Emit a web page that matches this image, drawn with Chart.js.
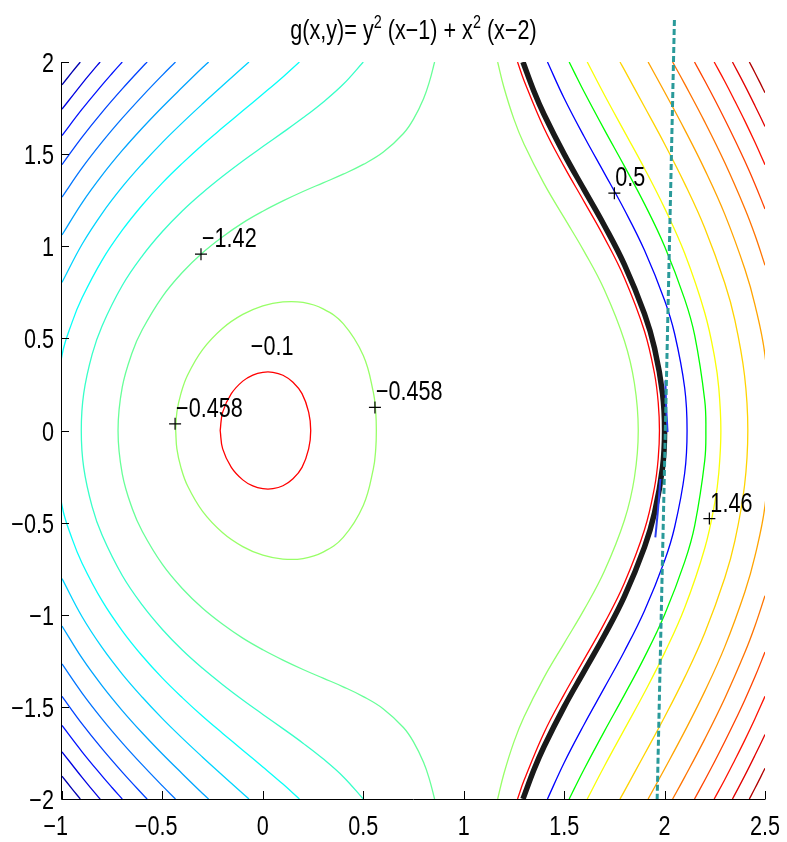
<!DOCTYPE html>
<html>
<head>
<meta charset="utf-8">
<script src="https://cdn.jsdelivr.net/npm/chart.js@4"></script>
<style>
  html, body { margin: 0; padding: 0; background: #fff; }
</style>
</head>
<body>
<canvas id="chart" width="787" height="842"></canvas>
<script>
// Tick values and labels
const xTicks = [-1, -0.5, 0, 0.5, 1, 1.5, 2, 2.5];
const xTickLabels = ['−1', '−0.5', '0', '0.5', '1', '1.5', '2', '2.5'];
const yTicks = [-2, -1.5, -1, -0.5, 0, 0.5, 1, 1.5, 2];
const yTickLabels = ['−2', '−1.5', '−1', '−0.5', '0', '0.5', '1', '1.5', '2'];

// Contour levels of the coloured set (the -0.458 level has two pieces)
const jetLevels = [-10.04, -9.08, -8.13, -7.17, -6.21, -5.25, -4.29, -3.33, -2.38, -1.42,
                   -0.458, -0.458, 1.46, 2.42, 3.38, 4.33, 5.29, 6.25, 7.21, 8.17];
const jetColors = ['#0000b0', '#0000e1', '#0012ff', '#0043ff', '#0073ff', '#00a4ff', '#00d4ff', '#06fff9',
                   '#37ffc8', '#67ff98', '#98ff67', '#98ff67', '#f9ff06', '#ffd400', '#ffa400', '#ff7300',
                   '#ff4300', '#ff1200', '#e10000', '#b00000'];

// Upper half (y >= 0) of each contour.
// The plot is symmetric about y = 0: a piece that ends on y = 0 is joined to its mirror,
// a piece that ends on an edge gets a separate mirrored piece.
const jetHalves = [
  [[-1, 1.876], [-0.95, 1.945], [-0.909, 2]],
  [[-1, 1.744], [-0.9, 1.883], [-0.85, 1.949], [-0.81, 2]],
  [[-1, 1.601], [-0.9, 1.744], [-0.8, 1.876], [-0.75, 1.939], [-0.7, 2]],
  [[-1, 1.443], [-0.9, 1.592], [-0.8, 1.728], [-0.7, 1.854], [-0.6, 1.973], [-0.576, 2]],
  [[-1, 1.267], [-0.9, 1.425], [-0.8, 1.566], [-0.7, 1.695], [-0.6, 1.815], [-0.5, 1.929], [-0.435, 2]],
  [[-1, 1.061], [-0.9, 1.236], [-0.8, 1.386], [-0.7, 1.520], [-0.6, 1.642], [-0.5, 1.756], [-0.4, 1.864],
   [-0.3, 1.970], [-0.27, 2]],
  [[-1, 0.804], [-0.9, 1.011], [-0.8, 1.179], [-0.7, 1.322], [-0.6, 1.448], [-0.5, 1.564], [-0.4, 1.671],
   [-0.3, 1.773], [-0.2, 1.872], [-0.1, 1.970], [-0.069, 2]],
  [[0.182, 2], [0.1, 1.919], [0, 1.826], [-0.1, 1.735], [-0.2, 1.644], [-0.3, 1.551], [-0.4, 1.451],
   [-0.5, 1.344], [-0.6, 1.224], [-0.7, 1.087], [-0.8, 0.925], [-0.9, 0.720], [-0.95, 0.587], [-1, 0.408], [-1.046, 0]],
  [[0.5, 2], [0.4, 1.879], [0.3, 1.782], [0.2, 1.697], [0.1, 1.618], [0, 1.541], [-0.1, 1.463], [-0.2, 1.380],
   [-0.3, 1.291], [-0.4, 1.193], [-0.5, 1.080], [-0.6, 0.948], [-0.7, 0.787], [-0.8, 0.569], [-0.85, 0.413],
   [-0.892, 0.2], [-0.904, 0]],
  [[0.855, 2], [0.83, 1.896], [0.8, 1.801], [0.75, 1.690], [0.7, 1.612], [0.6, 1.511], [0.5, 1.444], [0.4, 1.391],
   [0.3, 1.344], [0.2, 1.297], [0.1, 1.246], [0, 1.190], [-0.1, 1.127], [-0.2, 1.052], [-0.3, 0.965],
   [-0.4, 0.859], [-0.5, 0.727], [-0.6, 0.548], [-0.65, 0.425], [-0.7, 0.235], [-0.721, 0]],
  [[-0.434, 0], [-0.428, 0.1], [-0.408, 0.2], [-0.375, 0.3], [-0.3, 0.439], [-0.2, 0.555], [-0.1, 0.630], [0, 0.677],
   [0.1, 0.698], [0.2, 0.695], [0.3, 0.660], [0.4, 0.580], [0.5, 0.407], [0.55, 0.208], [0.562, 0.1], [0.565, 0]],
  [[1.169, 2], [1.2, 1.863], [1.25, 1.690], [1.3, 1.555], [1.4, 1.340], [1.5, 1.155], [1.6, 0.971],
   [1.7, 0.764], [1.8, 0.487], [1.85, 0.255], [1.869, 0]],
  [[1.615, 2], [1.7, 1.822], [1.8, 1.622], [1.9, 1.422], [2.0, 1.207], [2.1, 0.962], [2.2, 0.639],
   [2.25, 0.392], [2.27, 0.229], [2.2804, 0]],
  [[1.778, 2], [1.8, 1.957], [1.9, 1.757], [2.0, 1.555], [2.1, 1.340], [2.2, 1.099], [2.3, 0.799],
   [2.35, 0.599], [2.398, 0.3], [2.4145, 0]],
  [[1.918, 2], [2.0, 1.837], [2.1, 1.633], [2.2, 1.416], [2.3, 1.173], [2.4, 0.875], [2.45, 0.682],
   [2.5, 0.408], [2.528, 0]],
  [[2.040, 2], [2.1, 1.881], [2.2, 1.675], [2.3, 1.453], [2.4, 1.204], [2.45, 1.061], [2.5, 0.897]],
  [[2.149, 2], [2.2, 1.898], [2.25, 1.795], [2.3, 1.688], [2.35, 1.577], [2.4, 1.461], [2.45, 1.337], [2.5, 1.202]],
  [[2.247, 2], [2.3, 1.894], [2.35, 1.788], [2.4, 1.679], [2.45, 1.564], [2.5, 1.443]],
  [[2.338, 2], [2.4, 1.872], [2.45, 1.763], [2.5, 1.650]],
  [[2.422, 2], [2.45, 1.942], [2.48, 1.877], [2.5, 1.833]]
];

// Extra contours drawn on top: g = -0.1 (red), g = 0 (thick black), g = 0.5 (blue), g = 1 (green)
const redCircleHalf = [[-0.2125, 0], [-0.2, 0.1], [-0.157, 0.2], [-0.1, 0.268], [-0.05, 0.301], [0, 0.316],
  [0.05, 0.316], [0.1, 0.3], [0.15, 0.262], [0.195, 0.2], [0.228, 0.1], [0.2383, 0]];
const redRightHalf = [[1.268, 2], [1.3, 1.9], [1.4, 1.640], [1.5, 1.432], [1.6, 1.241], [1.7, 1.047],
  [1.8, 0.828], [1.9, 0.539], [1.95, 0.308], [1.9685, 0.15], [1.9745, 0]];
const zeroHalf = [[1.295, 2], [1.35, 1.840], [1.4, 1.715], [1.5, 1.5], [1.6, 1.306], [1.7, 1.113],
  [1.8, 0.9], [1.9, 0.633], [1.95, 0.447], [1.99, 0.2], [2, 0]];
const halfLevelHalf = [[1.417, 2], [1.5, 1.803], [1.6, 1.594], [1.7, 1.397], [1.8, 1.198], [1.9, 0.978],
  [2.0, 0.707], [2.05, 0.525], [2.1, 0.232], [2.112, 0]];
const oneLevelHalf = [[1.525, 2], [1.55, 1.945], [1.6, 1.837], [1.7, 1.633], [1.8, 1.435], [1.9, 1.230],
  [2.0, 1.0], [2.1, 0.713], [2.15, 0.516], [2.2, 0.163], [2.2056, 0]];

// Dashed line and the two short blue traces near x = 2
const dashedLine = [[2.049, 2.228], [1.963, -2.005]];
const blueTraceA = [[2.004, 0.272], [2.008, 0.13], [2.015, -0.009]];
const blueTraceB = [[1.979, -0.263], [1.968, -0.42], [1.954, -0.58]];

// Contour labels (anchor points; '+' drawn where a marker is shown)
const labelTexts = ['−1.42', '−0.458', '−0.458', '−0.1', '0.5', '1.46'];
const labelX = [-0.308, -0.437, 0.558, -0.065, 1.750, 2.223];
const labelY = [0.957, 0.036, 0.125, 0.374, 1.288, -0.478];
const labelMarker = [true, true, true, false, true, true];

const FONT = "'Liberation Sans', Arial, sans-serif";
const SQUEEZE = 0.8; // the original text is narrow

function toCurves(half) {
  const last = half[half.length - 1];
  const mirror = half.map(([x, y]) => [x, -y]);
  if (last[1] === 0) {
    return [half.concat(mirror.slice(0, -1).reverse())];
  }
  return [half, mirror];
}

function lineSet(pts, color, width, order, extra) {
  return Object.assign({
    data: pts.map(([x, y]) => ({ x, y })),
    showLine: true,
    borderColor: color,
    backgroundColor: color,
    borderWidth: width,
    pointRadius: 0,
    tension: 0.4,
    order: order
  }, extra || {});
}

const datasets = [];

// markers
datasets.push({
  data: labelX.map((x, i) => ({ x, y: labelY[i] })).filter((p, i) => labelMarker[i]),
  showLine: false,
  pointStyle: 'cross',
  pointRadius: 6,
  borderColor: '#000',
  borderWidth: 1.2,
  order: 0
});

datasets.push(lineSet(dashedLine, '#2a9a9a', 3, 1, { borderDash: [6, 3], tension: 0, clip: false }));
datasets.push(lineSet(blueTraceA, '#2a3cf0', 2, 2));
datasets.push(lineSet(blueTraceB, '#2a3cf0', 2, 2));

toCurves(zeroHalf).forEach(c => datasets.push(lineSet(c, '#1a1a1a', 5.5, 3)));
toCurves(redCircleHalf).forEach(c => datasets.push(lineSet(c, '#ff0000', 1.3, 4)));
toCurves(redRightHalf).forEach(c => datasets.push(lineSet(c, '#ff0000', 1.3, 4)));
toCurves(halfLevelHalf).forEach(c => datasets.push(lineSet(c, '#0000ff', 1.3, 5)));
toCurves(oneLevelHalf).forEach(c => datasets.push(lineSet(c, '#00ff00', 1.3, 6)));

jetHalves.forEach((half, i) => {
  toCurves(half).forEach(c => datasets.push(lineSet(c, jetColors[i], 1.3, 10)));
});

// draw narrow text: align 'left', 'right' or 'center'
function narrowText(ctx, text, x, y, size, align) {
  ctx.save();
  ctx.font = size + 'px ' + FONT;
  ctx.translate(x, y);
  ctx.scale(SQUEEZE, 1);
  ctx.textAlign = align;
  ctx.textBaseline = 'alphabetic';
  ctx.fillText(text, 0, 0);
  ctx.restore();
}

function narrowWidth(ctx, text, size) {
  ctx.save();
  ctx.font = size + 'px ' + FONT;
  const w = ctx.measureText(text).width * SQUEEZE;
  ctx.restore();
  return w;
}

const axesPlugin = {
  id: 'matlabAxes',
  afterDraw(chart) {
    const { ctx, chartArea: a, scales: { x, y } } = chart;
    ctx.save();
    ctx.fillStyle = '#000';
    ctx.strokeStyle = '#000';
    ctx.lineWidth = 1;

    // axis lines (left and bottom only)
    ctx.beginPath();
    ctx.moveTo(a.left - 0.5, a.top);
    ctx.lineTo(a.left - 0.5, a.bottom + 0.5);
    ctx.lineTo(a.right + 0.5, a.bottom + 0.5);
    ctx.stroke();

    // inward ticks
    ctx.beginPath();
    xTicks.forEach(v => {
      const px = Math.round(x.getPixelForValue(v)) + 0.5;
      ctx.moveTo(px, a.bottom);
      ctx.lineTo(px, a.bottom - 8);
    });
    yTicks.forEach(v => {
      const py = Math.round(y.getPixelForValue(v)) + 0.5;
      ctx.moveTo(a.left, py);
      ctx.lineTo(a.left + 7, py);
    });
    ctx.stroke();

    // tick labels; a leading minus hangs to the left of the centred number
    xTicks.forEach((v, i) => {
      const px = x.getPixelForValue(v);
      const t = xTickLabels[i];
      if (t.startsWith('−')) {
        const rest = t.slice(1);
        const w = narrowWidth(ctx, rest, 27);
        narrowText(ctx, t, px - w / 2 - narrowWidth(ctx, '−', 27), 835, 27, 'left');
      } else {
        narrowText(ctx, t, px, 835, 27, 'center');
      }
    });
    yTicks.forEach((v, i) => {
      const py = y.getPixelForValue(v);
      narrowText(ctx, yTickLabels[i], a.left - 8, py + 10, 27, 'right');
    });

    // contour labels
    labelTexts.forEach((t, i) => {
      const px = x.getPixelForValue(labelX[i]);
      const py = y.getPixelForValue(labelY[i]);
      narrowText(ctx, t, px + 1, py - 7, 27, 'left');
    });

    // title with superscripts
    const parts = [
      ['g(x,y)= y', false], ['2', true], [' (x−1) + x', false], ['2', true], [' (x−2)', false]
    ];
    const mainSize = 27, supSize = 18;
    let total = 0;
    parts.forEach(([s, sup]) => { total += narrowWidth(ctx, s, sup ? supSize : mainSize); });
    let cx = (a.left + a.right) / 2 - total / 2;
    parts.forEach(([s, sup]) => {
      const size = sup ? supSize : mainSize;
      narrowText(ctx, s, cx, sup ? 28 : 39, size, 'left');
      cx += narrowWidth(ctx, s, size);
    });
    ctx.restore();
  }
};

new Chart(document.getElementById('chart'), {
  type: 'scatter',
  data: { datasets },
  options: {
    responsive: false,
    animation: false,
    layout: { padding: { left: 62, right: 22, top: 62, bottom: 43 } },
    elements: { line: { capBezierPoints: false } },
    scales: {
      x: { type: 'linear', min: -1, max: 2.5, display: false },
      y: { type: 'linear', min: -2, max: 2, display: false }
    },
    plugins: { legend: { display: false }, tooltip: { enabled: false }, title: { display: false } }
  },
  plugins: [axesPlugin]
});
</script>
</body>
</html>
